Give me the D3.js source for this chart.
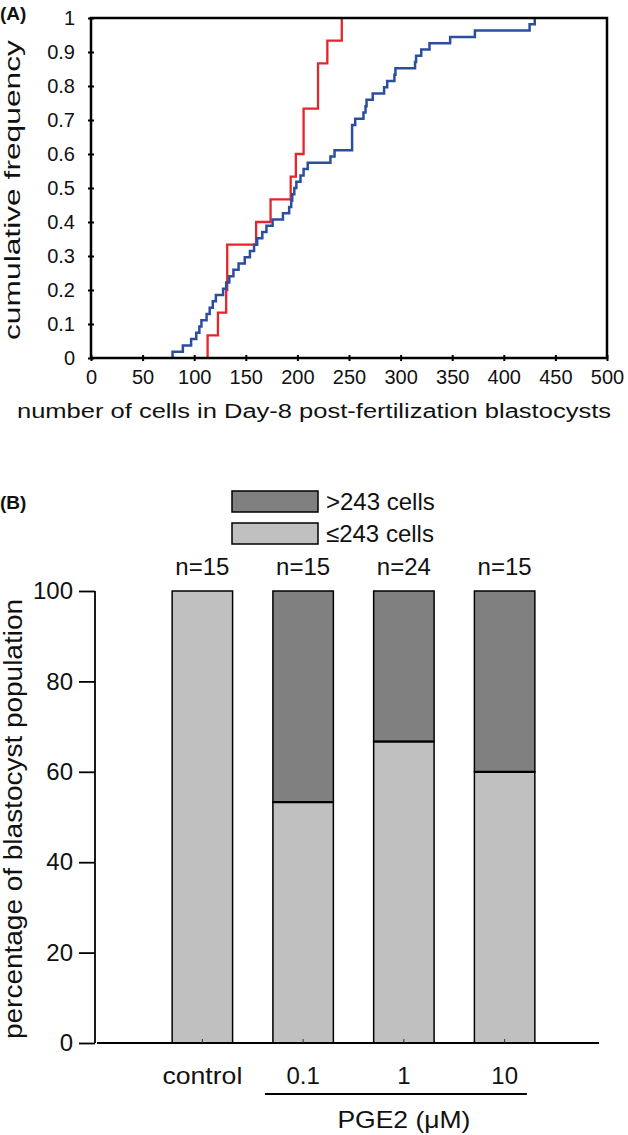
<!DOCTYPE html>
<html><head><meta charset="utf-8">
<script src="https://cdn.jsdelivr.net/npm/d3@7"></script>
<style>
html,body{margin:0;padding:0;background:#fff;}
svg text{font-family:"Liberation Sans",Arial,Helvetica,sans-serif;fill:#111;}
</style></head>
<body>
<svg id="chart" width="628" height="1135"></svg>
<script>
// ---------- DATA ----------
// Panel A: cell counts of Day-8 blastocysts (sorted)
const controlCells = [113,123,131,132,132,160,174,193.5,198.5,206,206,220,220,229,243];
const pge2Cells = [79,89,97,102,105,107,112,115,118,121,128,131,134,138,143,149,154,158,161,166,170,176,
  186,192,194,195,197,199,203,206,210,232,236,253,253,253,253,256,264,266,267,273,284,287,294,295,
  314,315,320,328,348,372,425,430];
const xTicksA = [0,50,100,150,200,250,300,350,400,450,500];
const yTicksA = [0,0.1,0.2,0.3,0.4,0.5,0.6,0.7,0.8,0.9,1];
// Panel B
const groups = ["control","0.1","1","10"];
const nLabels = ["n=15","n=15","n=24","n=15"];
const lowPct = [100,53.3,66.7,60];    // <=243 cells
const highPct = [0,46.7,33.3,40];     // >243 cells
const yTicksB = [0,20,40,60,80,100];
const legendLabels = [">243 cells","\u2264243 cells"];

const svg = d3.select("#chart");
const FONT = "Liberation Sans, Arial, sans-serif";

// ---------- PANEL A ----------
const xA = d3.scaleLinear().domain([0,500]).range([91,607]);
const yA = d3.scaleLinear().domain([0,1]).range([358,18]);

svg.append("text").attr("x",0).attr("y",20).attr("font-size",19).attr("font-weight","bold").text("(A)");

function ecdfPoints(vals){
  const n = vals.length;
  const pts = vals.map((v,i)=>[v,i/n]);
  pts.push([vals[n-1],1]);
  return pts;
}
const lineA = d3.line().x(d=>xA(d[0])).y(d=>yA(d[1])).curve(d3.curveStepBefore);

svg.append("path").attr("d",lineA(ecdfPoints(controlCells)))
  .attr("fill","none").attr("stroke","#e2262b").attr("stroke-width",2.3);
svg.append("path").attr("d",lineA(ecdfPoints(pge2Cells)))
  .attr("fill","none").attr("stroke","#2b4f9e").attr("stroke-width",2.5);

// frame
svg.append("rect").attr("x",xA(0)).attr("y",yA(1)).attr("width",xA(500)-xA(0)).attr("height",yA(0)-yA(1))
  .attr("fill","none").attr("stroke","#000").attr("stroke-width",2.5);

// axes
const gxA = svg.append("g").attr("transform",`translate(0,${yA(0)})`)
  .call(d3.axisBottom(xA).tickValues(xTicksA).tickFormat(d3.format("d")).tickSize(3).tickPadding(9));
gxA.selectAll("line").attr("y1",-3).attr("y2",3).attr("stroke","#000").attr("stroke-width",2);
const gyA = svg.append("g").attr("transform",`translate(${xA(0)},0)`)
  .call(d3.axisLeft(yA).tickValues(yTicksA).tickFormat(d=>d===0||d===1?String(d):d3.format(".1f")(d)).tickSize(3).tickPadding(13));
gyA.selectAll("line").attr("x1",-3).attr("x2",3).attr("stroke","#000").attr("stroke-width",2);
[gxA,gyA].forEach(g=>{g.select(".domain").remove();g.selectAll("text").attr("font-size",20).attr("fill","#111").style("font-family",FONT);});

svg.append("text").attr("transform",`translate(20,190) rotate(-90)`).attr("text-anchor","middle")
  .attr("font-size",22).attr("textLength",300).attr("lengthAdjust","spacingAndGlyphs").text("cumulative frequency");
svg.append("text").attr("x",314).attr("y",418).attr("text-anchor","middle")
  .attr("font-size",20).attr("textLength",594).attr("lengthAdjust","spacingAndGlyphs")
  .text("number of cells in Day-8 post-fertilization blastocysts");

// ---------- PANEL B ----------
svg.append("text").attr("x",0).attr("y",509).attr("font-size",19).attr("font-weight","bold").text("(B)");

const xB = d3.scaleBand().domain(groups).range([152,555]).paddingInner(0.4).paddingOuter(0.2);
const yB = d3.scaleLinear().domain([0,100]).range([1043,591]);

// legend
const legFill = ["#808080","#c0c0c0"];
legendLabels.forEach((lab,i)=>{
  const y0 = 491 + i*32;
  svg.append("rect").attr("x",232).attr("y",y0).attr("width",86).attr("height",21)
    .attr("fill",legFill[i]).attr("stroke","#000").attr("stroke-width",1.5);
  svg.append("text").attr("x",326).attr("y",y0+19).attr("font-size",24).text(lab);
});

// bars
groups.forEach((g,i)=>{
  const x0 = xB(g), w = xB.bandwidth();
  svg.append("rect").attr("x",x0).attr("y",yB(lowPct[i])).attr("width",w).attr("height",yB(0)-yB(lowPct[i]))
    .attr("fill","#c0c0c0").attr("stroke","#000").attr("stroke-width",1.5);
  if(highPct[i]>0){
    svg.append("rect").attr("x",x0).attr("y",yB(lowPct[i]+highPct[i])).attr("width",w)
      .attr("height",yB(lowPct[i])-yB(lowPct[i]+highPct[i]))
      .attr("fill","#808080").attr("stroke","#000").attr("stroke-width",1.5);
    svg.append("line").attr("x1",x0).attr("x2",x0+w).attr("y1",yB(lowPct[i])).attr("y2",yB(lowPct[i]))
      .attr("stroke","#000").attr("stroke-width",2.2);
  }
  svg.append("text").attr("x",x0+w/2).attr("y",yB(100)-16).attr("text-anchor","middle")
    .attr("font-size",24).text(nLabels[i]);
});

// y axis B
const gyB = svg.append("g").attr("transform","translate(95,0)")
  .call(d3.axisLeft(yB).tickValues(yTicksB).tickSize(16).tickPadding(6));
gyB.select(".domain").attr("d",`M0,${yB(100)}V${yB(0)}`).attr("stroke","#000").attr("stroke-width",1.8);
gyB.selectAll("line").attr("stroke","#000").attr("stroke-width",1.8);
gyB.selectAll("text").attr("font-size",24).attr("fill","#111").style("font-family",FONT);

// baseline + x labels
svg.append("line").attr("x1",97).attr("x2",599).attr("y1",yB(0)).attr("y2",yB(0)).attr("stroke","#000").attr("stroke-width",1.8);
const gxB = svg.append("g").attr("transform",`translate(0,${yB(0)})`)
  .call(d3.axisBottom(xB).tickSize(-4).tickPadding(24));
gxB.select(".domain").remove();
gxB.selectAll("line").attr("stroke","#333").attr("stroke-width",1);
gxB.selectAll("text").attr("font-size",24).attr("fill","#111").style("font-family",FONT)
  .each(function(d){ if(d==="control") d3.select(this).attr("textLength",80).attr("lengthAdjust","spacingAndGlyphs"); });

// bracket for PGE2
svg.append("line").attr("x1",xB("0.1")-8).attr("x2",xB("10")+xB.bandwidth()-8).attr("y1",1094).attr("y2",1094)
  .attr("stroke","#000").attr("stroke-width",1.8);
svg.append("text").attr("x",(xB("0.1")+xB("10")+xB.bandwidth())/2).attr("y",1128).attr("text-anchor","middle")
  .attr("font-size",24).attr("textLength",133).attr("lengthAdjust","spacingAndGlyphs").text("PGE2 (\u03bcM)");

svg.append("text").attr("transform",`translate(22,819) rotate(-90)`).attr("text-anchor","middle")
  .attr("font-size",25).attr("textLength",440).attr("lengthAdjust","spacingAndGlyphs")
  .text("percentage of blastocyst population");
</script>
</body></html>
